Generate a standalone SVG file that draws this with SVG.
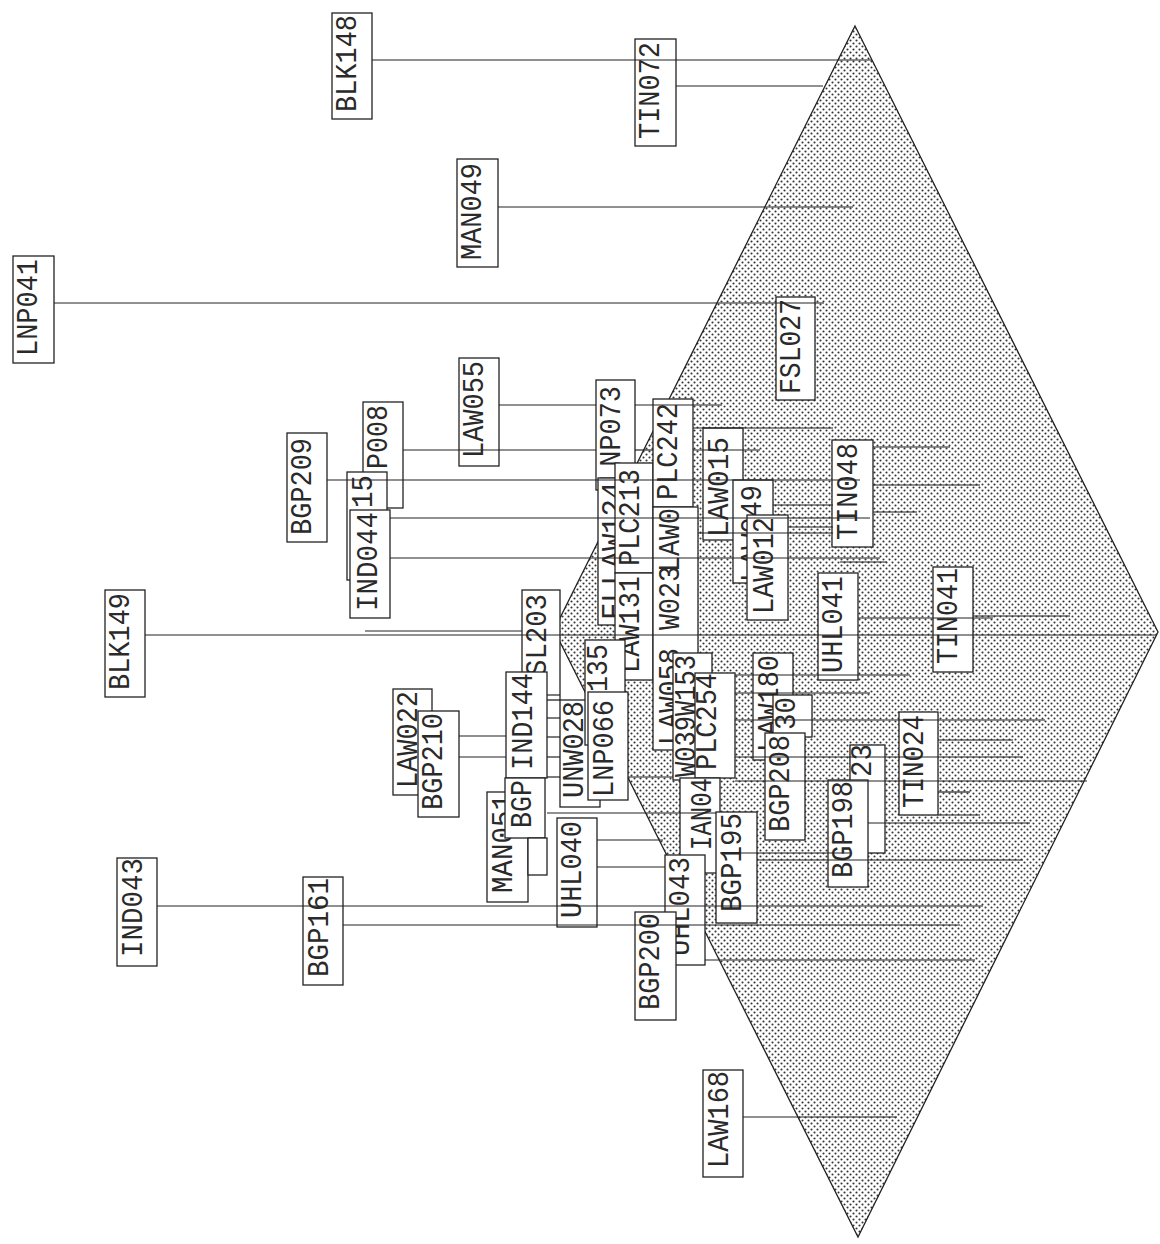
<svg xmlns="http://www.w3.org/2000/svg" width="1160" height="1244" viewBox="0 0 1160 1244">
<style>
.b{fill:#fff;stroke:#222;stroke-width:1.3}
.t{font-family:"Liberation Mono","DejaVu Sans Mono",monospace;font-size:30px;fill:#2a2a2a}
.c line{stroke:#222;stroke-width:1.2}
</style>
<defs>
<pattern id="dots" width="6" height="6" patternUnits="userSpaceOnUse">
<rect width="6" height="6" fill="#fff"/>
<circle cx="1.5" cy="1.5" r="1.05" fill="#333"/>
<circle cx="4.5" cy="4.5" r="1.05" fill="#333"/>
</pattern>
</defs>
<rect width="1160" height="1244" fill="#fff"/>
<g id="diamond"><polygon points="855,26 1158,632 858,1237 554,630" fill="url(#dots)" stroke="#222" stroke-width="1.3"/></g>
<g id="nodes">
<g id="BLK148"><rect class="b" x="332" y="13" width="40" height="106"/><text class="t" transform="rotate(-90 356 112)" x="356" y="112" textLength="97" lengthAdjust="spacingAndGlyphs">BLK148</text></g>
<g id="TIN072"><rect class="b" x="635" y="39" width="41" height="107"/><text class="t" transform="rotate(-90 659 139)" x="659" y="139" textLength="97" lengthAdjust="spacingAndGlyphs">TIN072</text></g>
<g id="MAN049"><rect class="b" x="457" y="159" width="41" height="108"/><text class="t" transform="rotate(-90 481 260)" x="481" y="260" textLength="97" lengthAdjust="spacingAndGlyphs">MAN049</text></g>
<g id="LNP041"><rect class="b" x="13" y="256" width="41" height="107"/><text class="t" transform="rotate(-90 37 356)" x="37" y="356" textLength="97" lengthAdjust="spacingAndGlyphs">LNP041</text></g>
<g id="FSL027"><rect class="b" x="776" y="297" width="39" height="103"/><text class="t" transform="rotate(-90 800 394)" x="800" y="394" textLength="95" lengthAdjust="spacingAndGlyphs">FSL027</text></g>
<g id="LAW055"><rect class="b" x="459" y="358" width="40" height="108"/><text class="t" transform="rotate(-90 483 458)" x="483" y="458" textLength="97" lengthAdjust="spacingAndGlyphs">LAW055</text></g>
<g id="BGP209"><rect class="b" x="287" y="433" width="40" height="109"/><text class="t" transform="rotate(-90 311 535)" x="311" y="535" textLength="97" lengthAdjust="spacingAndGlyphs">BGP209</text></g>
<g id="LNP008"><rect class="b" x="363" y="402" width="40" height="106"/><text class="t" transform="rotate(-90 387 469)" x="387" y="469" textLength="64" lengthAdjust="spacingAndGlyphs">P008</text></g>
<g id="N15"><rect class="b" x="347" y="472" width="40" height="108"/><text class="t" transform="rotate(-90 372 508)" x="372" y="508" textLength="33" lengthAdjust="spacingAndGlyphs">15</text></g>
<g id="IND044"><rect class="b" x="350" y="510" width="40" height="108"/><text class="t" transform="rotate(-90 377 611)" x="377" y="611" textLength="99" lengthAdjust="spacingAndGlyphs">IND044</text></g>
<g id="LNP073"><rect class="b" x="596" y="380" width="39" height="110"/><text class="t" transform="rotate(-90 620 483)" x="620" y="483" textLength="97" lengthAdjust="spacingAndGlyphs">LNP073</text></g>
<g id="LAW124"><rect class="b" x="598" y="478" width="40" height="147"/><text class="t" transform="rotate(-90 622 620)" x="622" y="620" textLength="138" lengthAdjust="spacingAndGlyphs">FLLAW124</text></g>
<g id="PLC213"><rect class="b" x="615" y="463" width="38" height="110"/><text class="t" transform="rotate(-90 639 566)" x="639" y="566" textLength="97" lengthAdjust="spacingAndGlyphs">PLC213</text></g>
<g id="LAW131"><rect class="b" x="615" y="573" width="38" height="107"/><text class="t" transform="rotate(-90 639 673)" x="639" y="673" textLength="97" lengthAdjust="spacingAndGlyphs">LAW131</text></g>
<g id="PLC242"><rect class="b" x="653" y="399" width="40" height="108"/><text class="t" transform="rotate(-90 677 500)" x="677" y="500" textLength="97" lengthAdjust="spacingAndGlyphs">PLC242</text></g>
<g id="LAW058"><rect class="b" x="653" y="507" width="45" height="243"/><text class="t" transform="rotate(-90 679 572)" x="679" y="572" textLength="64" lengthAdjust="spacingAndGlyphs">LAW0</text><text class="t" transform="rotate(-90 679 630)" x="679" y="630" textLength="64" lengthAdjust="spacingAndGlyphs">W023</text><text class="t" transform="rotate(-90 679 745)" x="679" y="745" textLength="97" lengthAdjust="spacingAndGlyphs">LAW058</text></g>
<g id="SL203"><rect class="b" x="522" y="590" width="38" height="110"/><text class="t" transform="rotate(-90 546 676)" x="546" y="676" textLength="82" lengthAdjust="spacingAndGlyphs">SL203</text></g>
<g id="BLK149"><rect class="b" x="105" y="590" width="40" height="107"/><text class="t" transform="rotate(-90 129 690)" x="129" y="690" textLength="97" lengthAdjust="spacingAndGlyphs">BLK149</text></g>
<g id="LAW022"><rect class="b" x="393" y="689" width="39" height="106"/><text class="t" transform="rotate(-90 417 788)" x="417" y="788" textLength="97" lengthAdjust="spacingAndGlyphs">LAW022</text></g>
<g id="BGP210"><rect class="b" x="418" y="711" width="41" height="106"/><text class="t" transform="rotate(-90 442 810)" x="442" y="810" textLength="97" lengthAdjust="spacingAndGlyphs">BGP210</text></g>
<g id="IND144"><rect class="b" x="506" y="672" width="41" height="106"/><text class="t" transform="rotate(-90 532 770)" x="532" y="770" textLength="97" lengthAdjust="spacingAndGlyphs">IND144</text></g>
<g id="MAN051"><rect class="b" x="487" y="792" width="41" height="110"/><text class="t" transform="rotate(-90 512 893)" x="512" y="893" textLength="99" lengthAdjust="spacingAndGlyphs">MAN051</text></g>
<g id="BGP"><rect class="b" x="505" y="778" width="40" height="60"/><text class="t" transform="rotate(-90 531 828)" x="531" y="828" textLength="48" lengthAdjust="spacingAndGlyphs">BGP</text></g>
<g id="N875"><rect class="b" x="528" y="838" width="19" height="37"/></g>
<g id="UNW028"><rect class="b" x="560" y="700" width="40" height="107"/><text class="t" transform="rotate(-90 583 798)" x="583" y="798" textLength="97" lengthAdjust="spacingAndGlyphs">UNW028</text></g>
<g id="N135"><rect class="b" x="585" y="640" width="40" height="105"/><text class="t" transform="rotate(-90 607 692)" x="607" y="692" textLength="48" lengthAdjust="spacingAndGlyphs">135</text></g>
<g id="LNP066"><rect class="b" x="588" y="692" width="40" height="108"/><text class="t" transform="rotate(-90 613 797)" x="613" y="797" textLength="97" lengthAdjust="spacingAndGlyphs">LNP066</text></g>
<g id="UHL040"><rect class="b" x="557" y="818" width="40" height="109"/><text class="t" transform="rotate(-90 581 918)" x="581" y="918" textLength="97" lengthAdjust="spacingAndGlyphs">UHL040</text></g>
<g id="LAW039"><rect class="b" x="673" y="653" width="39" height="127"/><text class="t" transform="rotate(-90 695 777)" x="695" y="777" textLength="122" lengthAdjust="spacingAndGlyphs">W039W153</text></g>
<g id="PLC254"><rect class="b" x="695" y="673" width="40" height="105"/><text class="t" transform="rotate(-90 716 770)" x="716" y="770" textLength="97" lengthAdjust="spacingAndGlyphs">PLC254</text></g>
<g id="MAN04"><rect class="b" x="680" y="778" width="40" height="95"/><text class="t" transform="rotate(-90 711 850)" x="711" y="850" textLength="72" lengthAdjust="spacingAndGlyphs">IAN04</text></g>
<g id="BGP195"><rect class="b" x="716" y="812" width="41" height="111"/><text class="t" transform="rotate(-90 741 912)" x="741" y="912" textLength="99" lengthAdjust="spacingAndGlyphs">BGP195</text></g>
<g id="UHL043"><rect class="b" x="665" y="855" width="40" height="110"/><text class="t" transform="rotate(-90 689 956)" x="689" y="956" textLength="99" lengthAdjust="spacingAndGlyphs">UHL043</text></g>
<g id="BGP200"><rect class="b" x="635" y="912" width="41" height="108"/><text class="t" transform="rotate(-90 659 1010)" x="659" y="1010" textLength="97" lengthAdjust="spacingAndGlyphs">BGP200</text></g>
<g id="LAW180"><rect class="b" x="753" y="653" width="40" height="107"/><text class="t" transform="rotate(-90 778 752)" x="778" y="752" textLength="97" lengthAdjust="spacingAndGlyphs">LAW180</text></g>
<g id="N30"><rect class="b" x="773" y="695" width="39" height="42"/><text class="t" transform="rotate(-90 795 730)" x="795" y="730" textLength="33" lengthAdjust="spacingAndGlyphs">30</text></g>
<g id="BGP208"><rect class="b" x="765" y="733" width="40" height="107"/><text class="t" transform="rotate(-90 789 832)" x="789" y="832" textLength="97" lengthAdjust="spacingAndGlyphs">BGP208</text></g>
<g id="N23"><rect class="b" x="850" y="745" width="35" height="108"/><text class="t" transform="rotate(-90 871 777)" x="871" y="777" textLength="33" lengthAdjust="spacingAndGlyphs">23</text></g>
<g id="BGP198"><rect class="b" x="828" y="780" width="40" height="107"/><text class="t" transform="rotate(-90 852 878)" x="852" y="878" textLength="97" lengthAdjust="spacingAndGlyphs">BGP198</text></g>
<g id="TIN024"><rect class="b" x="899" y="712" width="39" height="103"/><text class="t" transform="rotate(-90 923 808)" x="923" y="808" textLength="93" lengthAdjust="spacingAndGlyphs">TIN024</text></g>
<g id="UHL041"><rect class="b" x="818" y="573" width="40" height="107"/><text class="t" transform="rotate(-90 842 673)" x="842" y="673" textLength="97" lengthAdjust="spacingAndGlyphs">UHL041</text></g>
<g id="TIN041"><rect class="b" x="933" y="567" width="40" height="105"/><text class="t" transform="rotate(-90 957 664)" x="957" y="664" textLength="96" lengthAdjust="spacingAndGlyphs">TIN041</text></g>
<g id="TIN048"><rect class="b" x="832" y="440" width="41" height="107"/><text class="t" transform="rotate(-90 857 540)" x="857" y="540" textLength="97" lengthAdjust="spacingAndGlyphs">TIN048</text></g>
<g id="LAW015"><rect class="b" x="703" y="428" width="40" height="112"/><text class="t" transform="rotate(-90 728 537)" x="728" y="537" textLength="100" lengthAdjust="spacingAndGlyphs">LAW015</text></g>
<g id="LAW049"><rect class="b" x="733" y="480" width="40" height="103"/><text class="t" transform="rotate(-90 761 582)" x="761" y="582" textLength="97" lengthAdjust="spacingAndGlyphs">LAW049</text></g>
<g id="LAW012"><rect class="b" x="747" y="515" width="41" height="105"/><text class="t" transform="rotate(-90 773 614)" x="773" y="614" textLength="97" lengthAdjust="spacingAndGlyphs">LAW012</text></g>
<g id="IND043"><rect class="b" x="117" y="858" width="40" height="108"/><text class="t" transform="rotate(-90 142 957)" x="142" y="957" textLength="99" lengthAdjust="spacingAndGlyphs">IND043</text></g>
<g id="BGP161"><rect class="b" x="303" y="877" width="40" height="108"/><text class="t" transform="rotate(-90 328 977)" x="328" y="977" textLength="99" lengthAdjust="spacingAndGlyphs">BGP161</text></g>
<g id="LAW168"><rect class="b" x="703" y="1070" width="40" height="107"/><text class="t" transform="rotate(-90 728 1168)" x="728" y="1168" textLength="97" lengthAdjust="spacingAndGlyphs">LAW168</text></g>
</g>
<g id="connectors" class="c">
<line x1="372" y1="60" x2="872" y2="60"/>
<line x1="676" y1="86" x2="823" y2="86"/>
<line x1="498" y1="207" x2="853" y2="207"/>
<line x1="54" y1="303" x2="824" y2="303"/>
<line x1="499" y1="405" x2="596" y2="405"/>
<line x1="635" y1="405" x2="722" y2="405"/>
<line x1="403" y1="450" x2="596" y2="450"/>
<line x1="635" y1="450" x2="653" y2="450"/>
<line x1="693" y1="450" x2="760" y2="450"/>
<line x1="327" y1="480" x2="860" y2="480"/>
<line x1="873" y1="485" x2="980" y2="485"/>
<line x1="693" y1="428" x2="833" y2="428"/>
<line x1="873" y1="447" x2="950" y2="447"/>
<line x1="390" y1="518" x2="870" y2="518"/>
<line x1="390" y1="558" x2="880" y2="558"/>
<line x1="873" y1="512" x2="917" y2="512"/>
<line x1="773" y1="505" x2="833" y2="505"/>
<line x1="788" y1="527" x2="833" y2="527"/>
<line x1="698" y1="533" x2="833" y2="533"/>
<line x1="840" y1="562" x2="887" y2="562"/>
<line x1="145" y1="635" x2="1157" y2="635"/>
<line x1="365" y1="631" x2="522" y2="631"/>
<line x1="858" y1="618" x2="993" y2="618"/>
<line x1="973" y1="616" x2="1070" y2="616"/>
<line x1="459" y1="736" x2="506" y2="736"/>
<line x1="459" y1="757" x2="506" y2="757"/>
<line x1="547" y1="695" x2="560" y2="695"/>
<line x1="547" y1="718" x2="560" y2="718"/>
<line x1="547" y1="737" x2="560" y2="737"/>
<line x1="547" y1="757" x2="560" y2="757"/>
<line x1="547" y1="777" x2="560" y2="777"/>
<line x1="628" y1="777" x2="673" y2="777"/>
<line x1="547" y1="813" x2="716" y2="813"/>
<line x1="597" y1="840" x2="663" y2="840"/>
<line x1="597" y1="867" x2="665" y2="867"/>
<line x1="735" y1="675" x2="910" y2="675"/>
<line x1="735" y1="693" x2="870" y2="693"/>
<line x1="735" y1="720" x2="1045" y2="720"/>
<line x1="938" y1="740" x2="1013" y2="740"/>
<line x1="735" y1="757" x2="1023" y2="757"/>
<line x1="735" y1="781" x2="1087" y2="781"/>
<line x1="938" y1="792" x2="970" y2="792"/>
<line x1="938" y1="815" x2="980" y2="815"/>
<line x1="868" y1="823" x2="1030" y2="823"/>
<line x1="720" y1="853" x2="850" y2="853"/>
<line x1="757" y1="860" x2="1023" y2="860"/>
<line x1="157" y1="906" x2="983" y2="906"/>
<line x1="343" y1="925" x2="960" y2="925"/>
<line x1="705" y1="960" x2="975" y2="960"/>
<line x1="743" y1="1117" x2="897" y2="1117"/>
</g>
</svg>
